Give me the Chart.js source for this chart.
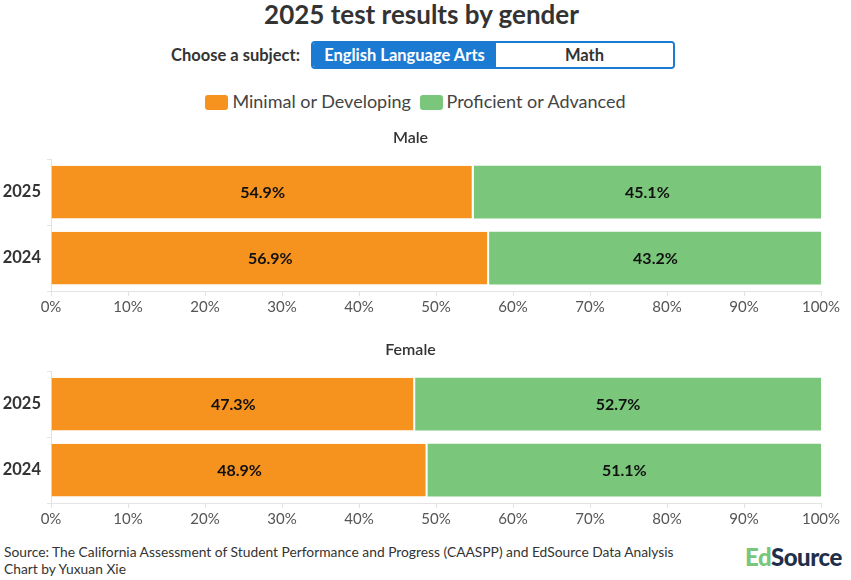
<!DOCTYPE html>
<html>
<head>
<meta charset="utf-8">
<script src="https://cdn.jsdelivr.net/npm/chart.js@4"></script>
<style>
  body { margin: 0; width: 851px; height: 580px; background: #fff; font-family: Lato, "Open Sans", sans-serif; color: #333; position: relative; overflow: hidden; }
  .title { position: absolute; top: 0; left: 0; width: 843px; text-align: center; font-size: 26px; font-weight: bold; line-height: 28px; color: #333; }
  .subject { position: absolute; top: 41px; left: 0; width: 851px; height: 28px; }
  .subject .lbl { position: absolute; left: 171px; top: 0; line-height: 28px; font-size: 16.5px; font-weight: bold; color: #333; }
  .btns { position: absolute; left: 311px; top: 0; width: 360px; height: 24px; border: 2px solid #1b7bd3; border-radius: 4px; display: flex; overflow: hidden; }
  .btns div { line-height: 24px; text-align: center; font-size: 16.5px; font-weight: bold; }
  .btns .on { width: 183px; background: #1b7bd3; color: #fff; }
  .btns .off { flex: 1; color: #333; background: #fff; }
  .legend { position: absolute; top: 90px; left: 0; width: 831px; text-align: center; font-size: 18px; color: #444; line-height: 22px; }
  .legend span.sw { display: inline-block; width: 23px; height: 15px; border-radius: 3px; vertical-align: -2px; margin-right: 4px; }
  .legend .item { margin: 0 2px; }
  .chartbox { position: absolute; left: 0; width: 851px; height: 200px; }
  .foot { position: absolute; left: 4px; top: 543px; font-size: 13.8px; line-height: 17px; color: #333; }
  .logo { position: absolute; left: 745px; top: 542px; font-size: 24px; font-weight: 900; letter-spacing: -0.5px; color: #1f2f4a; }
  .logo .ed { color: #78c67a; }
</style>
</head>
<body>
<div class="title">2025 test results by gender</div>
<div class="subject">
  <div class="lbl">Choose a subject:</div>
  <div class="btns"><div class="on">English Language Arts</div><div class="off">Math</div></div>
</div>
<div class="legend">
  <span class="item"><span class="sw" style="background:#f6921e"></span>Minimal or Developing</span>
  <span class="item"><span class="sw" style="background:#7ac77c"></span>Proficient or Advanced</span>
</div>
<div class="chartbox" style="top:125px"><canvas id="male"></canvas></div>
<div class="chartbox" style="top:337px"><canvas id="female"></canvas></div>
<div class="foot">Source: The California Assessment of Student Performance and Progress (CAASPP) and EdSource Data Analysis<br>Chart by Yuxuan Xie</div>
<div class="logo"><span class="ed">Ed</span>Source</div>
<script>
const years = ['2025', '2024'];
const seriesNames = ['Minimal or Developing', 'Proficient or Advanced'];
const maleMinimal = [54.9, 56.9];
const maleProficient = [45.1, 43.2];
const femaleMinimal = [47.3, 48.9];
const femaleProficient = [52.7, 51.1];
const colors = ['#f6921e', '#7ac77c'];

const barLabels = {
    id: 'barLabels',
    afterDatasetsDraw(chart) {
        const ctx = chart.ctx;
        ctx.save();
        ctx.font = 'bold 16px Lato, sans-serif';
        ctx.fillStyle = '#111';
        ctx.textAlign = 'center';
        ctx.textBaseline = 'middle';
        chart.data.datasets.forEach((ds, i) => {
            chart.getDatasetMeta(i).data.forEach((bar, j) => {
                const p = bar.getCenterPoint();
                ctx.fillText(ds.data[j].toFixed(1) + '%', p.x, p.y + 1);
            });
        });
        ctx.restore();
    }
};

function makeChart(id, title, minimal, proficient) {
    const ctx = document.getElementById(id).getContext('2d');
    return new Chart(ctx, {
        type: 'bar',
        data: {
            labels: years,
            datasets: [
                { label: seriesNames[0], data: minimal, backgroundColor: colors[0], borderColor: '#fff', borderWidth: { right: 2 }, borderSkipped: false },
                { label: seriesNames[1], data: proficient, backgroundColor: colors[1], borderColor: '#fff', borderWidth: 0 }
            ]
        },
        options: {
            indexAxis: 'y',
            responsive: true,
            maintainAspectRatio: false,
            animation: false,
            layout: { padding: { top: 3, right: 30, bottom: 7, left: 0 } },
            categoryPercentage: 1,
            barPercentage: 0.8,
            plugins: {
                legend: { display: false },
                tooltip: { enabled: false },
                title: {
                    display: true,
                    text: title,
                    color: '#333',
                    font: { family: 'Lato, sans-serif', size: 16, weight: '600' },
                    padding: { top: 0, bottom: 12 }
                }
            },
            scales: {
                x: {
                    stacked: true,
                    min: 0,
                    max: 100,
                    ticks: {
                        stepSize: 10,
                        color: '#555',
                        padding: 2,
                        font: { family: 'Lato, sans-serif', size: 15 },
                        callback: v => v + '%'
                    },
                    grid: { drawOnChartArea: false, drawTicks: true, tickLength: 5, color: '#e3e3e3' },
                    border: { color: '#e3e3e3' }
                },
                y: {
                    stacked: true,
                    afterFit: scale => { scale.width = 51; },
                    ticks: {
                        color: '#333',
                        padding: 6,
                        font: { family: 'Lato, sans-serif', size: 16.5, weight: 'bold' }
                    },
                    grid: { drawOnChartArea: false, drawTicks: true, tickLength: 4, color: '#e3e3e3' },
                    border: { color: '#e3e3e3' }
                }
            }
        },
        plugins: [barLabels]
    });
}

makeChart('male', 'Male', maleMinimal, maleProficient);
makeChart('female', 'Female', femaleMinimal, femaleProficient);
</script>
</body>
</html>
